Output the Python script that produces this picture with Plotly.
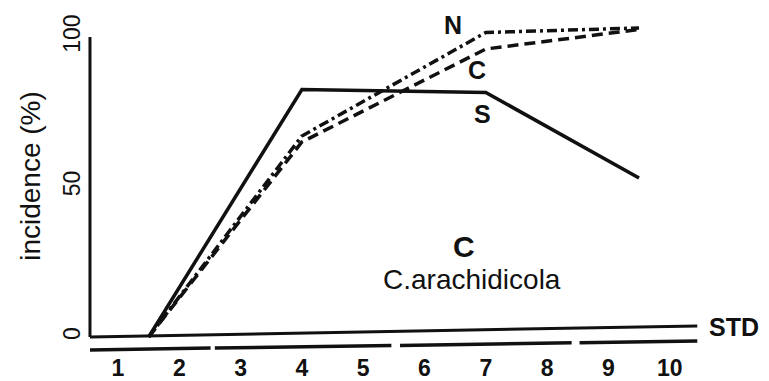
import plotly.graph_objects as go

# Sampling stages on the x axis and incidence (%) of each treatment
stages = [1, 2, 3, 4, 5, 6, 7, 8, 9, 10]
stage_labels = ["1", "2", "3", "4", "5", "6", "7", "8", "9", "10"]

s_x = [1.5, 4.0, 7.0, 9.5]
s_y = [0, 82.5, 81.5, 53]

n_x = [1.5, 4.0, 7.0, 9.5]
n_y = [0, 67, 101.5, 103]

c_x = [1.5, 4.0, 7.0, 9.5]
c_y = [0, 65, 96, 102.5]

std_x = [0.543, 10.45]
std_y = [0, 3.7]

# hand-drawn x axis: broken into four strokes
axis_segments = [
    ([0.543, 2.51], [-4.3, -3.7]),
    ([2.58, 5.46], [-3.7, -2.8]),
    ([5.60, 8.40], [-2.8, -1.9]),
    ([8.53, 10.45], [-1.9, -1.3]),
]
yaxis_x = [0.543, 0.543]
yaxis_y = [0, 100]

FONT = "Liberation Sans, Arial, sans-serif"
INK = "#111111"

fig = go.Figure()

# y axis stroke
fig.add_trace(go.Scatter(x=yaxis_x, y=yaxis_y, mode="lines",
                         line=dict(color=INK, width=3), hoverinfo="skip"))
for sx, sy in axis_segments:
    fig.add_trace(go.Scatter(x=sx, y=sy, mode="lines",
                             line=dict(color=INK, width=3.5), hoverinfo="skip"))

fig.add_trace(go.Scatter(x=std_x, y=std_y, mode="lines", name="STD",
                         line=dict(color=INK, width=3)))
fig.add_trace(go.Scatter(x=s_x, y=s_y, mode="lines", name="S",
                         line=dict(color=INK, width=3.5)))
fig.add_trace(go.Scatter(x=c_x, y=c_y, mode="lines", name="C",
                         line=dict(color=INK, width=3.5, dash="11px,6px")))
fig.add_trace(go.Scatter(x=n_x, y=n_y, mode="lines", name="N",
                         line=dict(color=INK, width=3.5, dash="10px,4px,3px,4px")))

bold = dict(family=FONT, size=25, color=INK, weight="bold")
notes = [
    (6.47, 104, "N", bold),
    (6.86, 89, "C", bold),
    (6.95, 74.3, "S", bold),
    (11.05, 3.3, "STD", dict(family=FONT, size=25, color=INK, weight="bold")),
    (6.64, 30.3, "C", dict(family=FONT, size=30, color=INK, weight="bold")),
    (6.78, 19.3, "C.arachidicola", dict(family=FONT, size=28, color=INK)),
]
for x, y, t, f in notes:
    fig.add_annotation(x=x, y=y, text=t, showarrow=False, font=f,
                       xanchor="center", yanchor="middle")

fig.update_layout(
    width=769, height=381,
    margin=dict(l=86, r=0, t=0, b=29),
    paper_bgcolor="white", plot_bgcolor="white",
    showlegend=False,
    xaxis=dict(range=[0.478, 11.62], tickmode="array", tickvals=stages,
               ticktext=stage_labels, showgrid=False, zeroline=False,
               showline=False, ticks="",
               tickfont=dict(family=FONT, size=23, color=INK, weight="bold")),
    yaxis=dict(range=[-5, 112.33], tickmode="array", tickvals=[0, 50, 100],
               ticktext=["0", "50", "100"], tickangle=-90,
               showgrid=False, zeroline=False, showline=False, ticks="",
               tickfont=dict(family=FONT, size=23, color=INK),
               title=dict(text="incidence (%)", standoff=10,
                          font=dict(family=FONT, size=28, color=INK))),
)

fig.write_html("out.html")
